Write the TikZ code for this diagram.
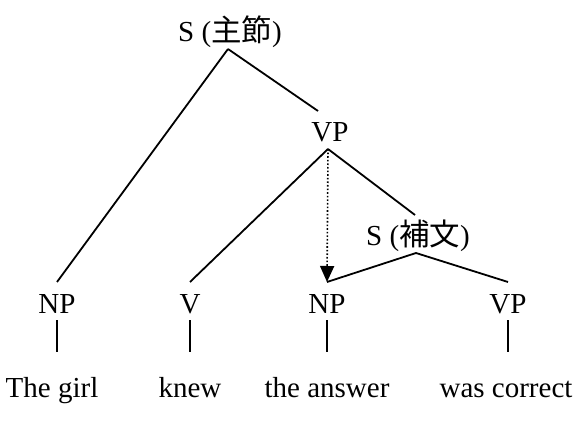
\documentclass[tikz,border=0pt]{standalone}
\usepackage{fontspec}
\setmainfont{Liberation Serif}
\newfontfamily\cjk[Scale=1.05]{Noto Sans CJK JP}
\usetikzlibrary{arrows.meta}
\begin{document}
\begin{tikzpicture}[x=1pt,y=-1pt,
  lab/.style={font=\fontsize{29}{31}\selectfont, inner sep=0pt, outer sep=0pt, text height=31pt, text depth=7pt, anchor=base},
  word/.style={lab, text height=45pt},
  edge/.style={line width=1.8pt},
  move/.style={line width=1.6pt, dotted, -{Triangle[length=16pt,width=14pt]}}]
\useasboundingbox (0,0) rectangle (575,438);
\node[lab] (S) at (230,42) {S ({\cjk 主節})};
\node[lab] (VP) at (330,142) {VP};
\node[lab] (S2) at (418,246) {S ({\cjk 補文})};
\node[lab] (NP1) at (57,313) {NP};
\node[lab] (V) at (190,313) {V};
\node[lab] (NP2) at (327,313) {NP};
\node[lab] (VP2) at (508,313) {VP};
\node[word] (w1) at (52,397) {The girl};
\node[word] (w2) at (190,397) {knew};
\node[word] (w3) at (327,397) {the answer};
\node[word] (w4) at (506,397) {was correct};
\draw[edge] ([xshift=-2pt]S.south) -- (NP1.north);
\draw[edge] ([xshift=-2pt]S.south) -- ([xshift=-12pt]VP.north);
\draw[edge] ([xshift=-2pt]VP.south) -- (V.north);
\draw[edge] ([xshift=-2pt]VP.south) -- ([xshift=-3pt]S2.north);
\draw[edge] ([xshift=-2pt]S2.south) -- (NP2.north);
\draw[edge] ([xshift=-2pt]S2.south) -- (VP2.north);
\draw[move] ([xshift=-2pt]VP.south) -- (NP2.north);
\draw[edge] (NP1.south) -- (w1.north -| NP1.south);
\draw[edge] (V.south) -- (w2.north);
\draw[edge] (NP2.south) -- (w3.north);
\draw[edge] (VP2.south) -- (w4.north -| VP2.south);
\end{tikzpicture}
\end{document}
